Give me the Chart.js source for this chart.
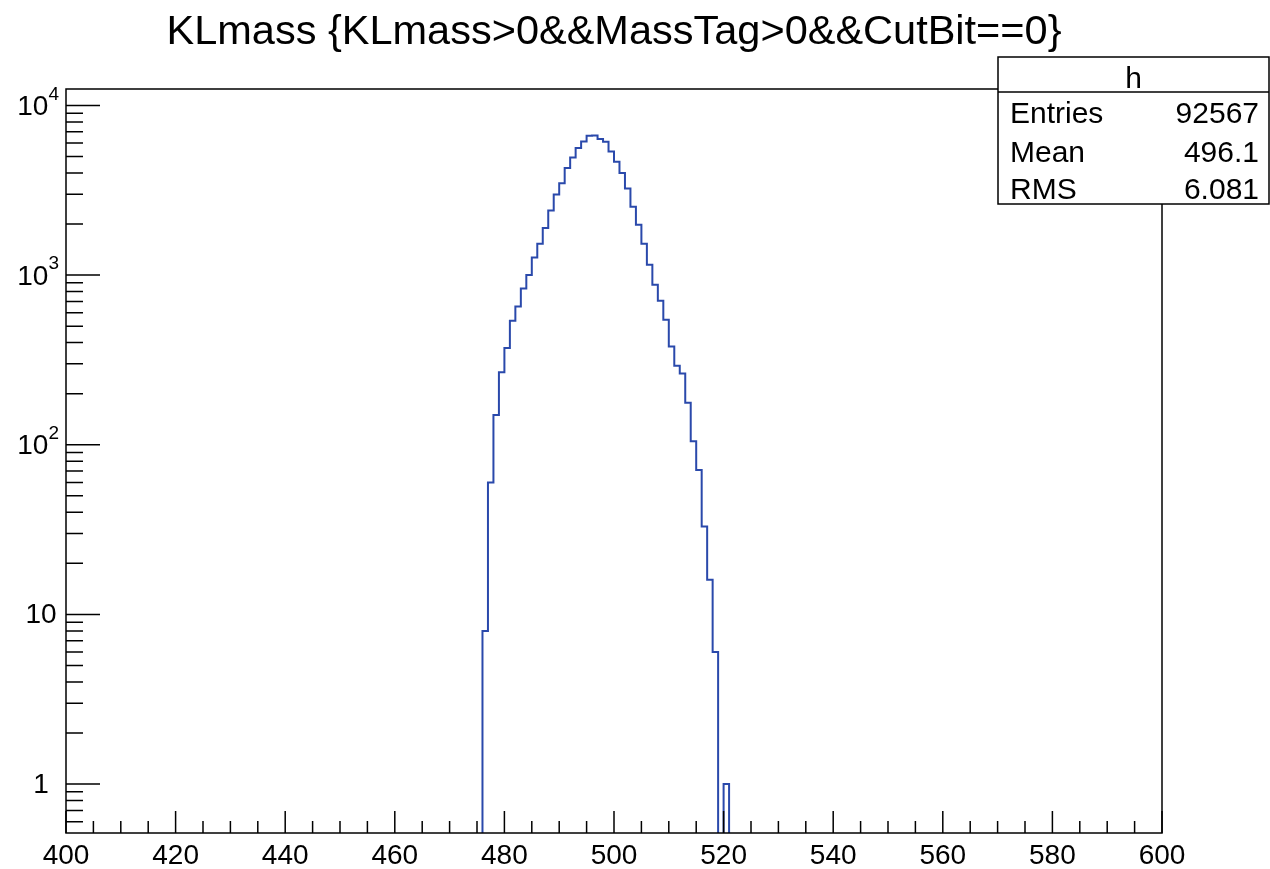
<!DOCTYPE html>
<html>
<head>
<meta charset="utf-8">
<title>KLmass</title>
<script src="https://cdn.jsdelivr.net/npm/chart.js@4.4.1/dist/chart.umd.min.js"></script>
<style>
  html, body { margin: 0; padding: 0; background: #fff; }
  canvas { display: block; }
</style>
</head>
<body>
<canvas id="h" width="1270" height="869"></canvas>
<script>
// histogram h: 200 bins of 1 MeV between 400 and 600
const xMin = 400;
const xMax = 600;
const binWidth = 1;
const firstFilledBin = 476;          // low edge of counts[0]
const counts = [
  8, 60, 150, 268, 372, 539, 654, 835, 1000, 1268,
  1531, 1897, 2400, 2990, 3480, 4276, 4940, 5610, 6140, 6630,
  6650, 6350, 6100, 5350, 4660, 4000, 3240, 2530, 1980, 1530,
  1150, 878, 707, 546, 380, 292, 263, 177, 105, 71,
  33, 16, 6, 0, 1
];

// axis settings
const yMin = 0.515;
const yMax = 12500;
const yDecades = [1, 10, 100, 1000, 10000];
const xMajorStep = 20;
const xMinorStep = 5;

const titleText = 'KLmass {KLmass>0&&MassTag>0&&CutBit==0}';
const statsName = 'h';
const statsLabels = ['Entries', 'Mean', 'RMS'];
const statsValues = ['92567', '496.1', '6.081'];

const FONT = '"Liberation Sans", Arial, Helvetica, sans-serif';

// outline points at every bin low edge; empty bins drop below the frame and get clipped
const points = [];
for (let e = xMin; e < xMax; e += binWidth) {
  const i = e - firstFilledBin;
  const c = i >= 0 && i < counts.length ? counts[i] : 0;
  points.push({ x: e, y: c > 0 ? c : yMin / 10 });
}
points.push({ x: xMax, y: yMin / 10 });

// ROOT style frame, inward ticks, log labels, title and stats box
const rootPad = {
  id: 'rootPad',
  afterDatasetsDraw(chart) {
    const { ctx, chartArea: a, scales: { x, y } } = chart;
    ctx.save();
    ctx.strokeStyle = '#000';
    ctx.lineWidth = 1.5;
    ctx.strokeRect(a.left, a.top, a.right - a.left, a.bottom - a.top);

    ctx.beginPath();
    for (let v = xMin; v <= xMax; v += xMinorStep) {
      const px = x.getPixelForValue(v);
      const len = v % xMajorStep === 0 ? 22 : 12;
      ctx.moveTo(px, a.bottom);
      ctx.lineTo(px, a.bottom - len);
    }
    for (let e = -1; e <= 4; e++) {
      for (let m = 1; m <= 9; m++) {
        const v = m * Math.pow(10, e);
        if (v < y.min || v > y.max) continue;
        const py = y.getPixelForValue(v);
        const len = m === 1 ? 34 : 17;
        ctx.moveTo(a.left, py);
        ctx.lineTo(a.left + len, py);
      }
    }
    ctx.stroke();

    // y labels: plain for 1 and 10, 10^n above
    ctx.fillStyle = '#000';
    ctx.textBaseline = 'middle';
    yDecades.forEach(d => {
      const py = y.getPixelForValue(d);
      const exp = Math.round(Math.log10(d));
      if (exp < 2) {
        ctx.textAlign = 'center';
        ctx.font = `28px ${FONT}`;
        ctx.fillText(String(d), 41, py + 1);
      } else {
        ctx.textAlign = 'right';
        ctx.font = `19px ${FONT}`;
        const sw = ctx.measureText(String(exp)).width;
        ctx.fillText(String(exp), a.left - 7, py - 11);
        ctx.font = `28px ${FONT}`;
        ctx.fillText('10', a.left - 7 - sw, py + 2);
      }
    });

    // title centred over the frame
    ctx.textAlign = 'center';
    ctx.textBaseline = 'alphabetic';
    ctx.font = `41.5px ${FONT}`;
    ctx.fillText(titleText, (a.left + a.right) / 2, 44);

    // stats box
    const bx = 998, by = 57, bw = 271, bh = 147, hh = 35;
    ctx.fillStyle = '#fff';
    ctx.fillRect(bx, by, bw, bh);
    ctx.lineWidth = 1.5;
    ctx.strokeRect(bx, by, bw, bh);
    ctx.beginPath();
    ctx.moveTo(bx, by + hh);
    ctx.lineTo(bx + bw, by + hh);
    ctx.stroke();
    ctx.fillStyle = '#000';
    ctx.font = `30px ${FONT}`;
    ctx.fillText(statsName, bx + bw / 2, 88);
    const rowBase = [123, 161.5, 198.5];
    statsLabels.forEach((lab, i) => {
      ctx.textAlign = 'left';
      ctx.fillText(lab, 1010, rowBase[i]);
      ctx.textAlign = 'right';
      ctx.fillText(statsValues[i], 1259, rowBase[i]);
    });
    ctx.restore();
  }
};

new Chart(document.getElementById('h'), {
  type: 'line',
  data: {
    datasets: [{
      label: statsName,
      data: points,
      stepped: 'before',
      borderColor: '#2a49ab',
      borderWidth: 2,
      pointRadius: 0,
      fill: false
    }]
  },
  options: {
    responsive: false,
    devicePixelRatio: 1,
    animation: false,
    layout: { padding: { top: 89, right: 108, left: 0, bottom: 0 } },
    plugins: {
      legend: { display: false },
      tooltip: { enabled: false }
    },
    scales: {
      x: {
        type: 'linear',
        min: xMin,
        max: xMax,
        grid: { display: false, drawTicks: false },
        border: { display: false },
        ticks: {
          stepSize: xMajorStep,
          autoSkip: false,
          maxRotation: 0,
          padding: 6,
          color: '#000',
          font: { family: FONT, size: 28 }
        },
        afterFit(scale) { scale.height = 36; }
      },
      y: {
        type: 'logarithmic',
        min: yMin,
        max: yMax,
        grid: { display: false, drawTicks: false },
        border: { display: false },
        ticks: { display: false },
        afterFit(scale) { scale.width = 66; }
      }
    }
  },
  plugins: [rootPad]
});
</script>
</body>
</html>
